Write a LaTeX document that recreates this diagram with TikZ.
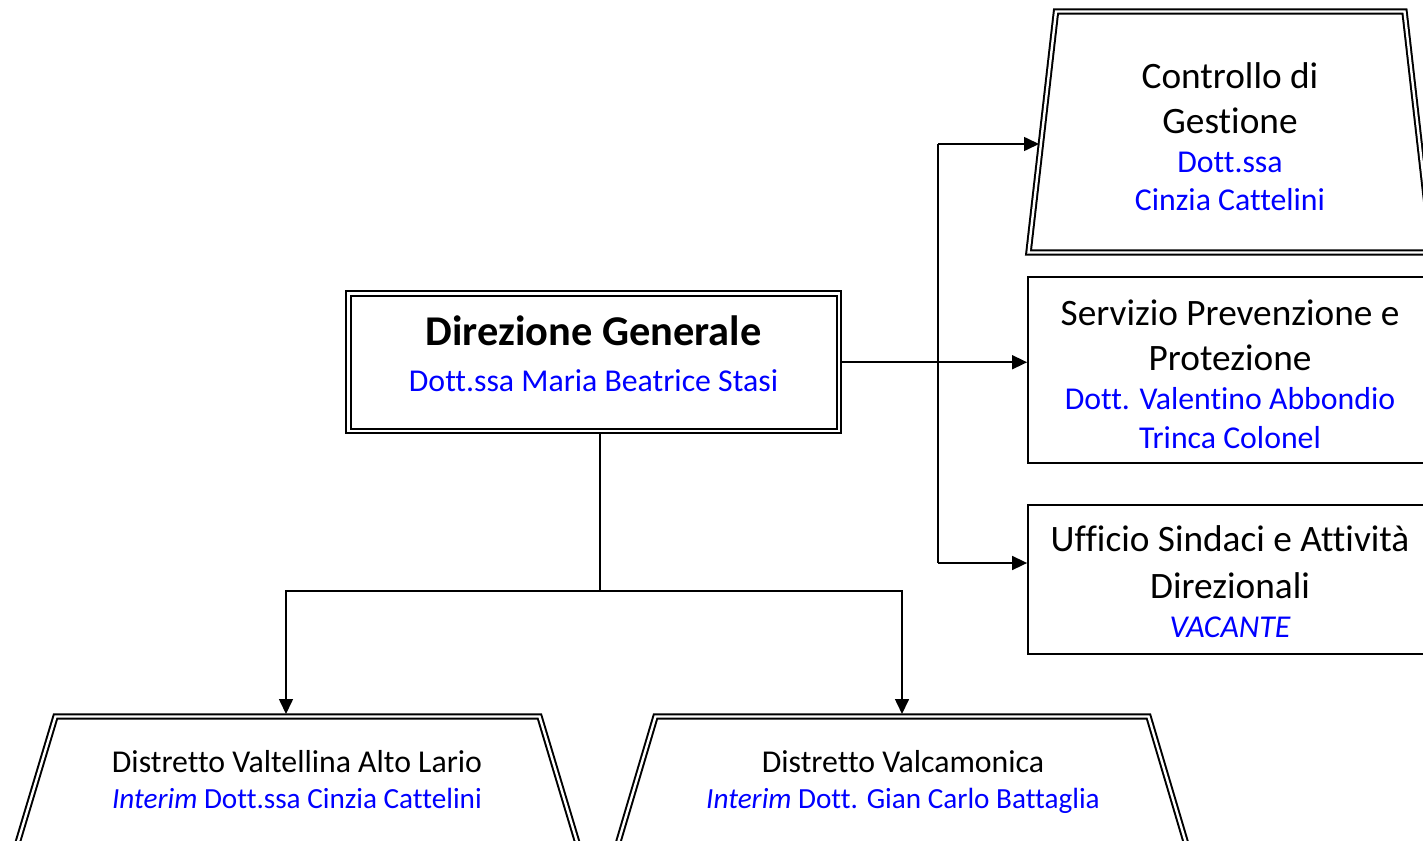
\documentclass[tikz,border=0pt]{standalone}
\usepackage{fontspec}
\setmainfont{Carlito}[Ligatures={NoCommon}]
\usetikzlibrary{arrows.meta}
\definecolor{nameblue}{RGB}{0,0,255}
\newcommand{\bl}[1]{{\fontsize{31.8}{38}\selectfont\color{nameblue}#1}}
\newcommand{\blsmall}[1]{{\fontsize{29.2}{36}\selectfont\color{nameblue}#1}}
\begin{document}
\begin{tikzpicture}[x=1pt,y=-1pt,
  conn/.style={line width=1.6pt},
  arr/.style={conn,-{Triangle[length=15pt,width=14pt]}},
  dblline/.style={draw, line width=2pt, double, double distance=2.4pt},
  dbl/.style={dblline, outer sep=3.2pt},
  single/.style={draw, line width=1.8pt, rectangle, inner sep=0pt},
  txt/.style={align=center, inner sep=0pt, font=\fontsize{37.3}{45}\selectfont},
  smalltxt/.style={align=center, inner sep=0pt, font=\fontsize{31.8}{36}\selectfont}
]
\useasboundingbox (0,0) rectangle (1423,840);
\clip (0,0) rectangle (1423,840);

% boxes
\node[dbl, rectangle, inner sep=0pt, minimum width=490.5pt, minimum height=137.5pt] (dg) at (593.75,362.25) {};
\draw[dblline] (1056,11.5) -- (1404.5,11.5) -- (1432,252.5) -- (1028.5,252.5) -- cycle;
\node[single, minimum width=404pt, minimum height=186pt] (sp) at (1230,370) {};
\node[single, minimum width=404pt, minimum height=149pt] (uf) at (1230,579.5) {};
\draw[dblline] (55.5,716.5) -- (539.5,716.5) -- (611.8,957.5) -- (-16.8,957.5) -- cycle;
\draw[dblline] (655.5,716.5) -- (1148.5,716.5) -- (1219.9,957.5) -- (584.1,957.5) -- cycle;

% texts (anchor base = baseline of the last line)
\node[txt, anchor=base] (dgt) at (593.5,391.7) {{\fontsize{42.4}{45}\selectfont\bfseries Direzione Generale}\\[1.7pt]\bl{Dott.ssa Maria Beatrice Stasi}};
\node[txt, anchor=base] (cgt) at (1230,210) {Controllo di\\Gestione\\[-6pt]\bl{Dott.ssa}\\[-7pt]\bl{Cinzia Cattelini}};
\node[txt, anchor=base] (spt) at (1230,448) {Servizio Prevenzione e\\Protezione\\[-6pt]\bl{Dott. Valentino Abbondio}\\[-6pt]\bl{Trinca Colonel}};
\node[txt, anchor=base] (uft) at (1230,637) {Ufficio Sindaci e Attività\\[2pt]Direzionali\\[-6pt]\bl{\itshape VACANTE}};
\node[smalltxt, anchor=base] (d1t) at (297,808) {Distretto Valtellina Alto Lario\\\blsmall{\itshape Interim\upshape{} Dott.ssa Cinzia Cattelini}};
\node[smalltxt, anchor=base] (d2t) at (903,808) {Distretto Valcamonica\\\blsmall{\itshape Interim\upshape{} Dott. Gian Carlo Battaglia}};

% connectors
\coordinate (bus) at (600,591);
\coordinate (t1) at (286,714);
\coordinate (t2) at (902,714);
\coordinate (vt) at (938,144);
\coordinate (vb) at (938,563);
\coordinate (cgin) at (1039,144);
\draw[conn] (dg.south -| bus) -- (bus);
\draw[arr] (bus) -| (t1);
\draw[arr] (bus) -| (t2);
\draw[arr] (dg.east) -- (dg.east -| sp.west);
\draw[conn] (vt) -- (vb);
\draw[arr] (vt) -- (cgin);
\draw[arr] (vb) -- (vb -| uf.west);
\end{tikzpicture}
\end{document}
